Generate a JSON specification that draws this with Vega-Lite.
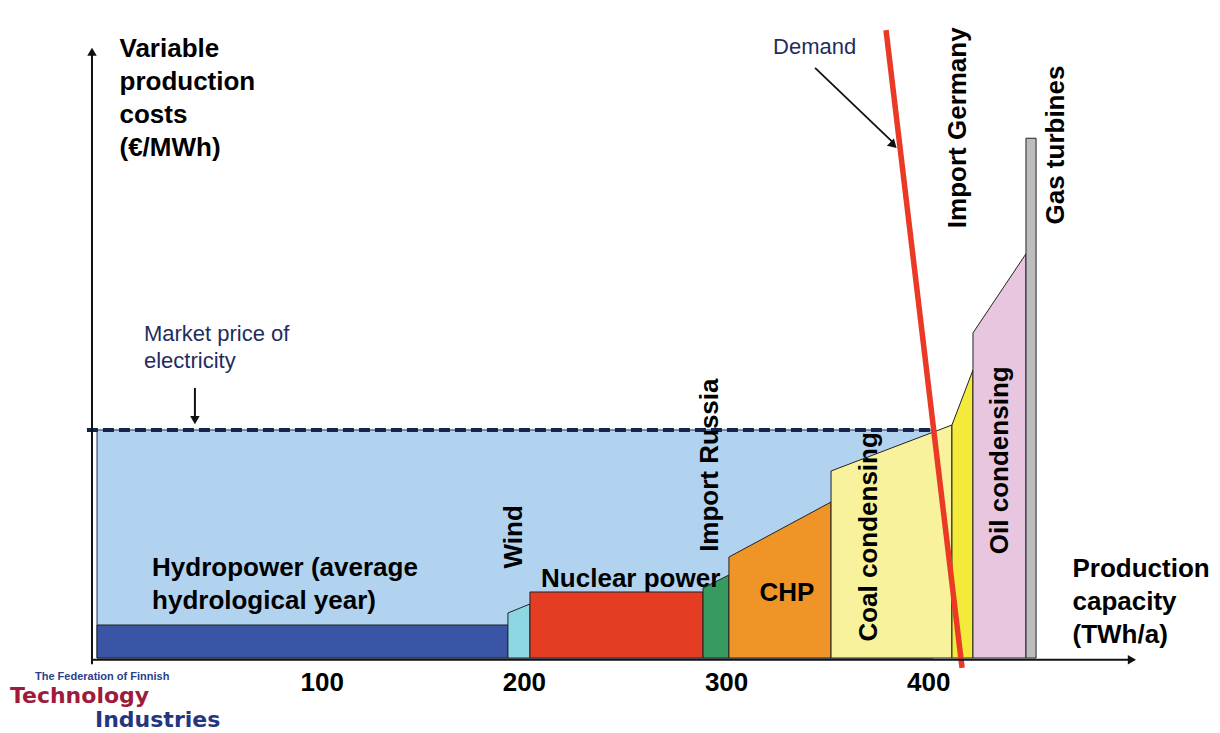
{
  "$schema": "https://vega.github.io/schema/vega-lite/v6.json",
  "width": 1047,
  "height": 618,
  "autosize": {"type": "none"},
  "padding": {"left": 93, "top": 40, "right": 80, "bottom": 75},
  "background": "white",
  "data": {"values": [{}]},
  "config": {
    "view": {"stroke": null},
    "font": "Liberation Sans",
    "axis": {"grid": false, "domain": false, "ticks": false}
  },
  "layer": [
    {
      "data": {"values": [{"twh": -11.1, "cost": 36.9}, {"twh": 402.3, "cost": 36.9}]},
      "mark": {"type": "area", "fill": "#b1d3ef", "stroke": "#1f2d5c", "strokeWidth": 1},
      "encoding": {
        "x": {
          "field": "twh", "type": "quantitative",
          "scale": {"domain": [-13.1, 504.7], "nice": false, "zero": false},
          "axis": {
            "values": [100, 200, 300, 400],
            "labelFont": "Liberation Sans", "labelFontSize": 26, "labelFontWeight": "bold",
            "labelColor": "#000", "labelPadding": 11,
            "title": ["Production", "capacity", "(TWh/a)"],
            "titleFont": "Liberation Sans", "titleFontSize": 26, "titleFontWeight": "bold", "titleColor": "#000",
            "titleX": 979, "titleY": -82, "titleAlign": "left", "titleBaseline": "alphabetic", "titleLineHeight": 33
          }
        },
        "y": {
          "field": "cost", "type": "quantitative", "stack": null,
          "scale": {"domain": [0, 100], "nice": false},
          "axis": {
            "labels": false,
            "title": ["Variable", "production", "costs", "(€/MWh)"],
            "titleFont": "Liberation Sans", "titleFontSize": 26, "titleFontWeight": "bold", "titleColor": "#000",
            "titleAngle": 0, "titleX": 26, "titleY": 16, "titleAlign": "left", "titleBaseline": "alphabetic", "titleLineHeight": 33
          }
        }
      }
    },
    {
      "mark": {"type": "rule", "color": "#14244a", "strokeWidth": 4, "strokeDash": [11, 5]},
      "encoding": {
        "x": {"datum": -16.1, "type": "quantitative"},
        "x2": {"datum": 402.3},
        "y": {"datum": 36.9, "type": "quantitative"}
      }
    },
    {
      "data": {"values": [
        {"source": "Hydropower", "twh": -11.1, "cost": 5.34},
        {"source": "Hydropower", "twh": 192.1, "cost": 5.34},
        {"source": "Wind", "twh": 192.1, "cost": 7.28},
        {"source": "Wind", "twh": 203.0, "cost": 8.74},
        {"source": "Nuclear power", "twh": 203.0, "cost": 10.68},
        {"source": "Nuclear power", "twh": 288.6, "cost": 10.68},
        {"source": "Import Russia", "twh": 288.6, "cost": 11.33},
        {"source": "Import Russia", "twh": 301.4, "cost": 13.43},
        {"source": "CHP", "twh": 301.4, "cost": 16.34},
        {"source": "CHP", "twh": 351.9, "cost": 25.24},
        {"source": "Coal condensing", "twh": 351.9, "cost": 30.26},
        {"source": "Coal condensing", "twh": 411.7, "cost": 37.7},
        {"source": "Import Germany", "twh": 411.7, "cost": 37.7},
        {"source": "Import Germany", "twh": 422.1, "cost": 46.6},
        {"source": "Oil condensing", "twh": 422.1, "cost": 52.6},
        {"source": "Oil condensing", "twh": 448.3, "cost": 65.4},
        {"source": "Gas turbines", "twh": 448.3, "cost": 84.1},
        {"source": "Gas turbines", "twh": 453.3, "cost": 84.1}
      ]},
      "mark": {"type": "area", "stroke": "#222222", "strokeWidth": 1, "opacity": 1},
      "encoding": {
        "x": {"field": "twh", "type": "quantitative"},
        "y": {"field": "cost", "type": "quantitative", "stack": null},
        "color": {
          "field": "source", "type": "nominal", "legend": null,
          "scale": {
            "domain": ["Hydropower", "Wind", "Nuclear power", "Import Russia", "CHP", "Coal condensing", "Import Germany", "Oil condensing", "Gas turbines"],
            "range": ["#3a55a6", "#8dd7e5", "#e53d24", "#379a5e", "#ef9527", "#f7f29b", "#f3ea3b", "#e8c6df", "#bdbdbd"]
          }
        }
      }
    },
    {
      "mark": {"type": "rule", "color": "#ea3a26", "strokeWidth": 5.5},
      "encoding": {
        "x": {"datum": 379.1, "type": "quantitative"},
        "y": {"datum": 101.6, "type": "quantitative"},
        "x2": {"datum": 416.7},
        "y2": {"datum": -1.6}
      }
    },
    {
      "mark": {"type": "rule", "color": "#111111", "strokeWidth": 1.8},
      "encoding": {
        "x": {"datum": 344.0, "type": "quantitative"},
        "y": {"datum": 95.5, "type": "quantitative"},
        "x2": {"datum": 382.0},
        "y2": {"datum": 83.6}
      }
    },
    {
      "mark": {"type": "point", "shape": "triangle-up", "filled": true, "color": "#111111", "size": 100, "angle": 134, "opacity": 1},
      "encoding": {
        "x": {"datum": 382.8, "type": "quantitative"},
        "y": {"datum": 83.0, "type": "quantitative"}
      }
    },
    {
      "mark": {"type": "rule", "color": "#111111", "strokeWidth": 2},
      "encoding": {
        "x": {"datum": 37.3, "type": "quantitative"},
        "y": {"datum": 43.7, "type": "quantitative"},
        "y2": {"datum": 38.8}
      }
    },
    {
      "mark": {"type": "point", "shape": "triangle-down", "filled": true, "color": "#111111", "size": 90, "opacity": 1},
      "encoding": {
        "x": {"datum": 37.3, "type": "quantitative"},
        "y": {"datum": 38.5, "type": "quantitative"}
      }
    },
    {
      "mark": {"type": "rule", "color": "#111111", "strokeWidth": 2},
      "encoding": {
        "x": {"datum": -13.6, "type": "quantitative"},
        "y": {"datum": -1, "type": "quantitative"},
        "y2": {"datum": 98}
      }
    },
    {
      "mark": {"type": "point", "shape": "triangle-up", "filled": true, "color": "#111111", "size": 90, "opacity": 1},
      "encoding": {
        "x": {"datum": -13.6, "type": "quantitative"},
        "y": {"datum": 98.1, "type": "quantitative"}
      }
    },
    {
      "mark": {"type": "rule", "color": "#111111", "strokeWidth": 2},
      "encoding": {
        "x": {"datum": -13.6, "type": "quantitative"},
        "x2": {"datum": 500.0},
        "y": {"datum": -0.3, "type": "quantitative"}
      }
    },
    {
      "mark": {"type": "point", "shape": "triangle-right", "filled": true, "color": "#111111", "size": 90, "opacity": 1},
      "encoding": {
        "x": {"datum": 500.7, "type": "quantitative"},
        "y": {"datum": -0.3, "type": "quantitative"}
      }
    },
    {
      "mark": {"type": "text", "text": ["Hydropower (average", "hydrological year)"], "font": "Liberation Sans", "fontSize": 26, "fontWeight": "bold", "color": "#000", "align": "left", "baseline": "alphabetic", "lineHeight": 33},
      "encoding": {"x": {"datum": 16.1, "type": "quantitative"}, "y": {"datum": 13.3, "type": "quantitative"}}
    },
    {
      "mark": {"type": "text", "text": "Nuclear power", "font": "Liberation Sans", "fontSize": 26, "fontWeight": "bold", "color": "#000", "align": "left", "baseline": "alphabetic"},
      "encoding": {"x": {"datum": 208.5, "type": "quantitative"}, "y": {"datum": 11.5, "type": "quantitative"}}
    },
    {
      "mark": {"type": "text", "text": "CHP", "font": "Liberation Sans", "fontSize": 26, "fontWeight": "bold", "color": "#000", "align": "center", "baseline": "alphabetic"},
      "encoding": {"x": {"datum": 330.1, "type": "quantitative"}, "y": {"datum": 9.2, "type": "quantitative"}}
    },
    {
      "mark": {"type": "text", "text": "Wind", "font": "Liberation Sans", "fontSize": 26, "fontWeight": "bold", "color": "#000", "align": "center", "baseline": "middle", "angle": 270},
      "encoding": {"x": {"datum": 195.1, "type": "quantitative"}, "y": {"datum": 19.6, "type": "quantitative"}}
    },
    {
      "mark": {"type": "text", "text": "Import Russia", "font": "Liberation Sans", "fontSize": 26, "fontWeight": "bold", "color": "#000", "align": "center", "baseline": "middle", "angle": 270},
      "encoding": {"x": {"datum": 291.8, "type": "quantitative"}, "y": {"datum": 31.2, "type": "quantitative"}}
    },
    {
      "mark": {"type": "text", "text": "Coal condensing", "font": "Liberation Sans", "fontSize": 26, "fontWeight": "bold", "color": "#000", "align": "center", "baseline": "middle", "angle": 270},
      "encoding": {"x": {"datum": 370.7, "type": "quantitative"}, "y": {"datum": 19.6, "type": "quantitative"}}
    },
    {
      "mark": {"type": "text", "text": "Import Germany", "font": "Liberation Sans", "fontSize": 26, "fontWeight": "bold", "color": "#000", "align": "center", "baseline": "middle", "angle": 270},
      "encoding": {"x": {"datum": 414.7, "type": "quantitative"}, "y": {"datum": 85.8, "type": "quantitative"}}
    },
    {
      "mark": {"type": "text", "text": "Oil condensing", "font": "Liberation Sans", "fontSize": 26, "fontWeight": "bold", "color": "#000", "align": "center", "baseline": "middle", "angle": 270},
      "encoding": {"x": {"datum": 435.4, "type": "quantitative"}, "y": {"datum": 32.0, "type": "quantitative"}}
    },
    {
      "mark": {"type": "text", "text": "Gas turbines", "font": "Liberation Sans", "fontSize": 26, "fontWeight": "bold", "color": "#000", "align": "center", "baseline": "middle", "angle": 270},
      "encoding": {"x": {"datum": 463.1, "type": "quantitative"}, "y": {"datum": 83.0, "type": "quantitative"}}
    },
    {
      "mark": {"type": "text", "text": ["Market price of", "electricity"], "font": "Liberation Sans", "fontSize": 22, "color": "#1f2d5c", "align": "left", "baseline": "alphabetic", "lineHeight": 27},
      "encoding": {"x": {"datum": 12.1, "type": "quantitative"}, "y": {"datum": 51.3, "type": "quantitative"}}
    },
    {
      "mark": {"type": "text", "text": "Demand", "font": "Liberation Sans", "fontSize": 22, "color": "#1f2d5c", "align": "left", "baseline": "alphabetic"},
      "encoding": {"x": {"datum": 323.2, "type": "quantitative"}, "y": {"datum": 97.7, "type": "quantitative"}}
    },
    {
      "mark": {"type": "text", "text": "The Federation of Finnish", "font": "Liberation Sans", "fontSize": 11, "fontWeight": "bold", "color": "#2b3f8c", "align": "left", "baseline": "alphabetic"},
      "encoding": {"x": {"datum": -41.8, "type": "quantitative"}, "y": {"datum": -3.56, "type": "quantitative"}}
    },
    {
      "mark": {"type": "text", "text": "Technology", "font": "DejaVu Sans", "fontSize": 22, "fontWeight": "bold", "color": "#9e1b3c", "align": "left", "baseline": "alphabetic"},
      "encoding": {"x": {"datum": -54.2, "type": "quantitative"}, "y": {"datum": -7.3, "type": "quantitative"}}
    },
    {
      "mark": {"type": "text", "text": "Industries", "font": "DejaVu Sans", "fontSize": 22, "fontWeight": "bold", "color": "#23367f", "align": "left", "baseline": "alphabetic"},
      "encoding": {"x": {"datum": -12.1, "type": "quantitative"}, "y": {"datum": -11.2, "type": "quantitative"}}
    }
  ]
}
